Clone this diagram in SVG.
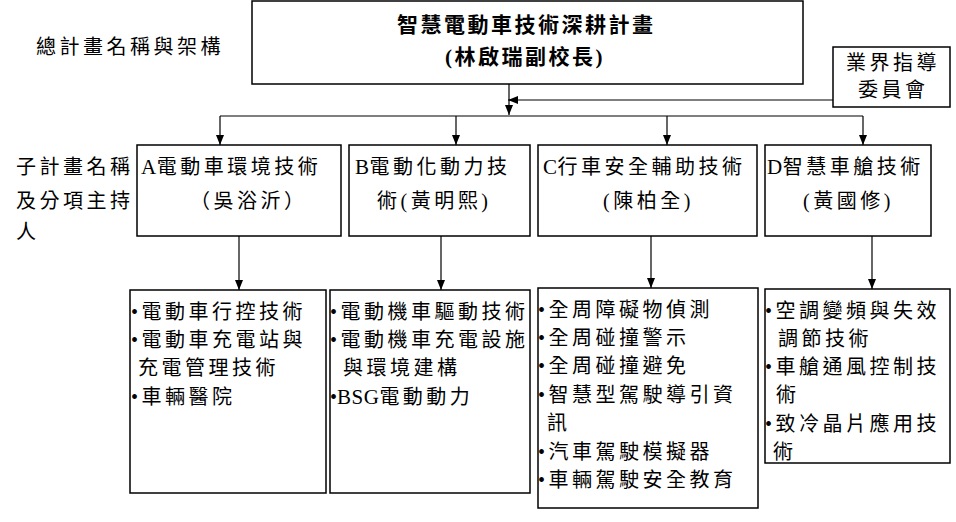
<svg xmlns="http://www.w3.org/2000/svg" width="956" height="522" viewBox="0 0 956 522">
<style>
.box{fill:#fff;stroke:#000;stroke-width:1.5}
.t{font-family:"Liberation Serif","Noto Sans CJK TC",serif;font-size:20px;letter-spacing:3.5px;fill:#000}
.b{font-family:"Liberation Serif","Noto Sans CJK TC",serif;font-size:21px;letter-spacing:2.5px;font-weight:bold;fill:#000}
.c{stroke:#000;stroke-width:1.2;fill:none}
.l{letter-spacing:0.5px;font-size:21px}
</style>
<defs>
<marker id="ah" markerUnits="userSpaceOnUse" markerWidth="10" markerHeight="10" viewBox="0 0 10 10" refX="10" refY="5" orient="auto">
<path d="M0,1 L10,5 L0,9 Z" fill="#000"/>
</marker>
</defs>
<rect width="956" height="522" fill="#fff"/>
<g id="label-main"><text class="t" x="36" y="54">總計畫名稱與架構</text></g>
<g id="label-sub">
<text class="t" x="16" y="174">子計畫名稱</text>
<text class="t" x="16" y="208">及分項主持</text>
<text class="t" x="16" y="239">人</text>
</g>
<g id="main">
<rect class="box" x="252" y="1" width="551" height="83"/>
<text class="b" x="397" y="32">智慧電動車技術深耕計畫</text>
<text class="b" x="445" y="64">(林啟瑞副校長)</text>
</g>
<g id="committee">
<rect class="box" x="833" y="47" width="117" height="60"/>
<text class="t" x="846" y="70">業界指導</text>
<text class="t" x="858" y="97">委員會</text>
</g>
<g id="A">
<rect class="box" x="137" y="145" width="204" height="91"/>
<text class="t" x="141" y="174"><tspan class="l">A</tspan>電動車環境技術</text>
<text class="t" x="190" y="208">（吳浴沂）</text>
</g>
<g id="B">
<rect class="box" x="349" y="145" width="181" height="91"/>
<text class="t" x="355" y="174"><tspan class="l">B</tspan>電動化動力技</text>
<text class="t" x="377" y="208">術(黃明熙)</text>
</g>
<g id="C">
<rect class="box" x="538" y="145" width="219" height="91"/>
<text class="t" x="543" y="174"><tspan class="l">C</tspan>行車安全輔助技術</text>
<text class="t" x="603" y="208">(陳柏全)</text>
</g>
<g id="D">
<rect class="box" x="765" y="145" width="166" height="91"/>
<text class="t" x="767" y="174"><tspan class="l">D</tspan>智慧車艙技術</text>
<text class="t" x="803" y="208">(黃國修)</text>
</g>
<g id="A-items">
<rect class="box" x="130" y="290" width="196" height="203"/>
<text class="t" x="131" y="319">•電動車行控技術</text>
<text class="t" x="131" y="347">•電動車充電站與</text>
<text class="t" x="138" y="375">充電管理技術</text>
<text class="t" x="131" y="404">•車輛醫院</text>
</g>
<g id="B-items">
<rect class="box" x="330" y="290" width="200" height="203"/>
<text class="t" x="330" y="319">•電動機車驅動技術</text>
<text class="t" x="330" y="347">•電動機車充電設施</text>
<text class="t" x="343" y="375">與環境建構</text>
<text class="t" x="330" y="404"><tspan letter-spacing="0">•</tspan><tspan class="l">BSG</tspan>電動動力</text>
</g>
<g id="C-items">
<rect class="box" x="538" y="288" width="220" height="220"/>
<text class="t" x="538" y="317">•全周障礙物偵測</text>
<text class="t" x="538" y="345">•全周碰撞警示</text>
<text class="t" x="538" y="373">•全周碰撞避免</text>
<text class="t" x="538" y="402">•智慧型駕駛導引資</text>
<text class="t" x="547" y="430">訊</text>
<text class="t" x="538" y="459">•汽車駕駛模擬器</text>
<text class="t" x="538" y="487">•車輛駕駛安全教育</text>
</g>
<g id="D-items">
<rect class="box" x="765" y="289" width="185" height="174"/>
<text class="t" x="765" y="318">•空調變頻與失效</text>
<text class="t" x="778" y="346">調節技術</text>
<text class="t" x="765" y="374">•車艙通風控制技</text>
<text class="t" x="776" y="402">術</text>
<text class="t" x="765" y="431">•致冷晶片應用技</text>
<text class="t" x="773" y="459">術</text>
</g>
<g id="connectors">
<line class="c" x1="509" y1="84" x2="509" y2="115" marker-end="url(#ah)"/>
<line class="c" x1="833" y1="100" x2="508" y2="100" marker-end="url(#ah)"/>
<line class="c" x1="220" y1="116" x2="863" y2="116"/>
<line class="c" x1="220" y1="116" x2="220" y2="145" marker-end="url(#ah)"/>
<line class="c" x1="456" y1="116" x2="456" y2="145" marker-end="url(#ah)"/>
<line class="c" x1="667" y1="116" x2="667" y2="145" marker-end="url(#ah)"/>
<line class="c" x1="863" y1="116" x2="863" y2="145" marker-end="url(#ah)"/>
<line class="c" x1="239" y1="236" x2="239" y2="290" marker-end="url(#ah)"/>
<line class="c" x1="441" y1="236" x2="441" y2="290" marker-end="url(#ah)"/>
<line class="c" x1="651" y1="236" x2="651" y2="288" marker-end="url(#ah)"/>
<line class="c" x1="872" y1="236" x2="872" y2="289" marker-end="url(#ah)"/>
</g>
</svg>
